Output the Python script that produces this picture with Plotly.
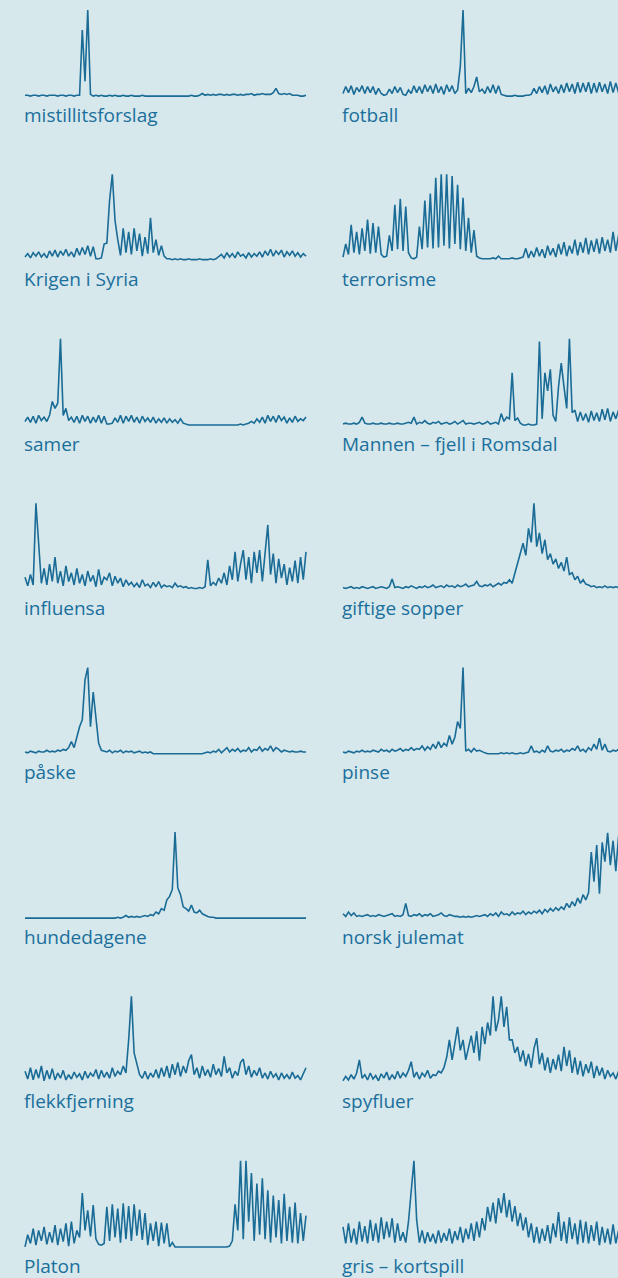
import plotly.graph_objects as go

W, H = 618, 1278

labels = [
    "mistillitsforslag", "fotball",
    "Krigen i Syria", "terrorisme",
    "samer", "Mannen – fjell i Romsdal",
    "influensa", "giftige sopper",
    "påske", "pinse",
    "hundedagene", "norsk julemat",
    "flekkfjerning", "spyfluer",
    "Platon", "gris – kortspill",
]

mistillitsforslag = [2,2,1,2,2,1,2,2,1,2, 2,2,1,2,2,1,2,2,1,2, 2,77,18,100,3,1,2,1,2,1,
    1,2,1,2,1,1,2,1,1,2, 1,1,1,2,1,1,1,1,1,1, 1,1,1,1,1,1,1,1,1,1, 1,2,1,1,2,4,2,3,2,3,
    2,3,3,2,3,2,3,3,2,3, 2,3,3,4,2,3,3,4,3,3, 3,5,10,4,3,4,3,4,2,2, 2,1,1,2]
fotball = [4,12,5,13,3,11,6,13,4,12, 5,12,3,10,4,2,3,9,4,12, 5,11,3,2,8,4,13,5,12,4,
    14,6,13,4,15,5,12,3,14,6, 13,4,8,35,100,4,10,5,12,23, 6,9,4,12,5,14,4,13,3,2,
    1,1,1,2,1,1,1,2,2,3, 10,4,12,5,13,3,15,6,12,4, 14,5,16,6,15,4,17,5,16,6,
    17,4,16,5,17,6,15,4,18,5, 16,5,17,6]
krigen_i_syria = [5,9,4,10,6,11,5,9,4,12, 6,13,5,12,7,14,6,11,5,15, 7,16,8,18,6,17,3,3,4,20,
    21,70,100,47,25,7,38,10,34,8, 38,12,32,6,28,9,50,10,25,7, 18,6,3,3,2,3,2,3,2,2,
    3,2,2,2,3,2,2,2,3,2, 3,5,8,4,10,5,9,4,11,6, 8,4,10,5,9,6,11,5,12,7,
    14,6,12,8,13,5,11,7,12,6, 10,5,9,6]
terrorisme = [5,20,8,42,10,34,8,38,12,48, 9,44,10,40,8,5,6,30,12,65, 14,72,12,63,10,4,3,5,40,14,
    70,16,78,15,96,16,100,18,100,15, 98,20,88,14,73,12,50,10,36,6, 4,3,3,3,3,4,3,6,3,3,
    3,3,4,3,3,4,5,15,4,12, 5,16,6,14,4,18,7,15,5,20, 8,22,6,18,9,25,7,22,10,27,
    8,24,11,26,9,28,12,25,10,34, 12,30,9,35]
samer = [5,10,4,11,3,12,6,10,5,12, 28,20,26,100,12,20,6,10,4,11, 3,12,5,11,3,10,4,12,3,11,
    2,2,3,9,4,12,3,11,5,12, 4,10,3,11,5,9,4,10,3,8, 4,9,3,8,4,7,3,8,3,2,
    1,1,1,1,1,1,1,1,1,1, 1,1,1,1,1,1,1,1,1,2, 1,2,3,5,3,8,4,10,3,12,
    5,11,4,12,6,10,3,9,4,11, 5,8,6,10]
mannen = [2,3,2,2,3,2,4,10,3,2, 2,3,2,2,3,2,2,3,2,2, 3,2,2,3,4,3,10,2,4,3,
    6,3,2,4,3,5,2,3,4,2, 3,5,2,4,6,2,3,3,2,3, 4,2,3,5,2,3,4,2,14,5,
    10,8,61,6,9,3,1,1,2,1, 1,2,97,8,61,40,65,12,5,45, 72,45,20,100,15,18,5,16,6,14,
    4,17,6,15,5,19,7,20,5,16, 8,18,6,15]
influensa = [15,5,18,6,100,54,8,25,6,30, 10,38,8,22,5,28,10,20,6,25, 8,18,5,22,10,17,4,24,6,15,
    12,20,5,16,8,14,4,12,6,9, 4,8,3,12,5,7,3,9,4,10, 3,6,4,5,3,8,4,5,3,4,
    2,3,2,2,3,2,4,35,5,9, 6,14,8,20,6,28,12,44,10,30, 46,12,38,8,44,20,46,10,40,75,
    18,42,8,36,14,30,6,26,10,34, 8,38,12,44]
giftige_sopper = [3,2,3,4,2,3,2,4,3,2, 3,4,2,3,4,3,2,4,13,3, 4,3,2,4,3,5,3,2,4,3,
    5,3,4,6,3,4,5,3,6,4, 5,3,6,4,5,7,4,5,6,10, 5,4,6,5,7,4,6,8,6,9,
    8,12,8,20,31,45,54,40,71,55, 100,50,66,42,58,35,42,30,36,25, 32,22,38,18,20,12,16,8,12,7,
    6,4,5,3,4,3,5,3,4,3, 4,3,4,3]
paaske = [3,2,4,3,2,4,3,3,5,3, 4,3,5,4,6,5,8,15,8,20, 32,40,86,100,32,72,40,13,5,4,
    3,5,2,4,3,5,2,4,3,4, 2,3,4,2,3,2,3,1,1,1, 1,1,1,1,1,1,1,1,1,1,
    1,1,1,1,1,1,2,3,2,4, 3,6,2,5,8,3,6,4,7,3, 5,4,8,3,6,5,9,4,7,5,
    10,4,8,6,3,5,4,3,4,3, 3,4,3,3]
pinse = [3,2,4,3,2,4,3,5,3,4, 3,5,4,3,6,4,5,3,6,4, 5,7,4,6,5,8,5,7,6,10,
    5,9,6,12,7,15,8,13,10,22, 12,20,38,30,100,4,6,3,7,4, 5,3,2,1,1,1,1,1,2,1,
    2,1,2,1,1,2,1,2,3,10, 3,4,2,5,3,10,4,3,5,4, 6,3,5,4,7,5,10,4,6,3,
    8,5,12,6,19,5,12,4,3,5, 4,6,3,5]
hundedagene = [1,1,1,1,1,1,1,1,1,1, 1,1,1,1,1,1,1,1,1,1, 1,1,1,1,1,1,1,1,1,1,
    1,1,1,1,2,1,2,4,2,3, 2,3,2,3,4,3,5,4,8,6, 12,10,22,26,34,100,36,28,14,12,
    9,16,8,7,10,6,4,3,2,2, 1,1,1,1,1,1,1,1,1,1, 1,1,1,1,1,1,1,1,1,1,
    1,1,1,1,1,1,1,1,1,1, 1,1,1,1]
norsk_julemat = [6,3,8,4,7,3,4,3,4,5, 3,4,3,5,4,3,4,5,6,3, 4,3,5,18,4,3,5,4,6,3,
    5,4,6,3,4,5,7,4,3,5, 4,3,3,2,3,2,3,2,3,4, 3,4,5,3,6,4,7,3,8,5,
    6,4,8,5,7,6,9,5,8,6, 9,7,10,6,11,8,12,9,13,10, 14,11,18,13,20,15,24,18,28,22,
    30,77,43,85,29,88,66,99,62,90, 55,95,70,100]
flekkfjerning = [14,5,18,4,16,6,20,3,15,5, 17,4,12,6,15,4,10,5,13,7, 11,4,14,6,12,8,16,5,15,7,
    13,6,18,8,14,10,20,12,50,100, 35,23,10,6,14,5,12,7,16,6, 18,8,20,6,22,10,24,8,20,12,
    26,33,10,18,6,20,9,16,7,22, 10,17,8,31,12,18,6,14,9,24, 28,10,20,7,15,9,18,6,12,5,
    14,7,11,4,12,6,10,5,13,6, 9,4,12,18]
spyfluer = [3,8,4,10,5,12,27,6,10,4, 12,5,9,3,11,6,13,4,10,5, 14,6,12,8,15,25,7,13,5,12,
    8,15,6,10,9,14,12,18,30,50, 27,45,65,38,50,27,40,55,35,60, 26,65,45,70,55,100,60,73,100,65,
    88,50,50,35,42,25,38,20,34,18, 40,52,22,35,15,30,12,28,16,33, 14,42,20,38,12,30,10,26,8,22,
    12,25,6,20,9,18,5,15,8,12, 5,14,7,10]
platon = [1,15,5,22,3,20,8,24,4,18, 6,26,3,22,7,28,2,30,5,20, 12,63,20,43,13,49,10,4,3,5,
    47,8,50,12,45,6,51,10,48,8, 50,14,44,9,40,3,28,8,30,2, 29,5,28,1,6,1,1,1,1,1,
    1,1,1,1,1,1,1,1,1,1, 1,1,1,1,1,2,8,50,20,100, 10,100,30,86,8,74,15,80,10,66,
    6,60,12,55,5,62,8,47,6,52, 5,40,8,37]
gris_kortspill = [24,5,28,6,22,4,30,7,25,5, 32,8,28,6,35,10,30,12,34,6, 28,8,18,6,30,66,100,32,6,20,
    5,18,7,16,5,20,6,17,8,22, 5,19,9,24,6,22,10,28,8,30, 12,34,20,47,30,52,28,57,40,63,
    35,55,30,48,25,40,20,35,12,28, 6,24,5,22,8,26,5,28,12,41, 8,30,5,35,10,28,4,32,6,30,
    5,26,8,30,3,24,6,22,4,27, 5,20,8,24]

series = [
    mistillitsforslag, fotball, krigen_i_syria, terrorisme, samer, mannen,
    influensa, giftige_sopper, paaske, pinse, hundedagene, norsk_julemat,
    flekkfjerning, spyfluer, platon, gris_kortspill,
]

BG = "#d6e8ec"
LINE = "#1a6b96"
TEXT = "#1b6f9c"

ROW_STEP = 164.4
TOP0, BOT0 = 10.0, 97.0          # pixel top/bottom of value 100 / 0 in row 0
XSPAN = 103.0                    # x units across the sparkline
PX_PER_X = 281.0 / XSPAN
PX_PER_Y = (BOT0 - TOP0) / 100.0
COL_X0 = [25.0, 343.0]
LABEL_BASE0 = 121.7

fig = go.Figure()
layout = {}
annotations = []
for k, (label, vals) in enumerate(zip(labels, series)):
    r, c = divmod(k, 2)
    n = len(vals)
    xs = [i * XSPAN / (n - 1) for i in range(n)]
    ax = k + 1
    fig.add_trace(go.Scatter(
        x=xs, y=vals, mode="lines",
        line=dict(color=LINE, width=1.6),
        xaxis=f"x{ax}", yaxis=f"y{ax}",
        hoverinfo="skip", showlegend=False,
    ))
    x0 = COL_X0[c]
    xl_px = x0 - 0.5 * PX_PER_X
    if c == 0:
        xr_px = x0 + 281.0 + 0.5 * PX_PER_X
        xmax = XSPAN + 0.5
    else:
        xr_px = W
        xmax = (W - x0) / PX_PER_X
    top = TOP0 + ROW_STEP * r
    bot = BOT0 + ROW_STEP * r
    pad = 2.0
    yb_px = bot + pad * PX_PER_Y
    yt_px = top - pad * PX_PER_Y
    layout[f"xaxis{ax}"] = dict(domain=[xl_px / W, xr_px / W], range=[-0.5, xmax],
                                visible=False, anchor=f"y{ax}", fixedrange=True)
    layout[f"yaxis{ax}"] = dict(domain=[1 - yb_px / H, 1 - yt_px / H], range=[-pad, 100 + pad],
                                visible=False, anchor=f"x{ax}", fixedrange=True)
    base = LABEL_BASE0 + ROW_STEP * r
    annotations.append(dict(
        text=label, xref="paper", yref="paper",
        x=(x0 - 2) / W, y=1 - (base - 7.0) / H,
        xanchor="left", yanchor="middle", showarrow=False, borderpad=0,
        font=dict(family="Open Sans", size=19, color=TEXT),
    ))

fig.update_layout(
    width=W, height=H,
    margin=dict(l=0, r=0, t=0, b=0),
    paper_bgcolor=BG, plot_bgcolor=BG,
    annotations=annotations,
    **layout,
)

fig.write_html("out.html", config={"displayModeBar": False, "staticPlot": True},
               post_script="document.body.style.margin='0';document.body.style.background='" + BG + "';")
